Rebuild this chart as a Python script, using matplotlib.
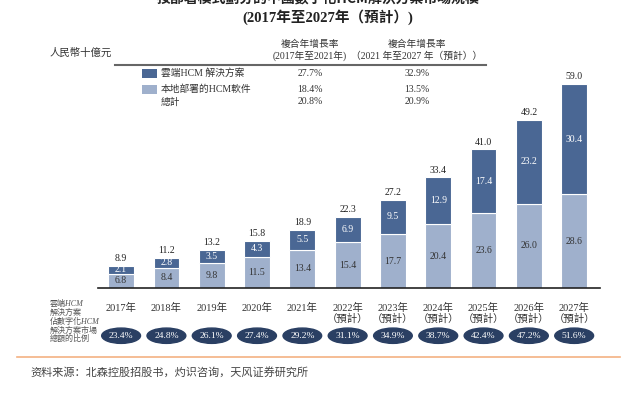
import matplotlib
matplotlib.use("Agg")
import matplotlib.pyplot as plt
import numpy as np

years = ["2017年", "2018年", "2019年", "2020年", "2021年", "2022年", "2023年",
         "2024年", "2025年", "2026年", "2027年"]
forecast = [False] * 5 + [True] * 6
onprem = [6.8, 8.4, 9.8, 11.5, 13.4, 15.4, 17.7, 20.4, 23.6, 26.0, 28.6]
cloud = [2.1, 2.8, 3.5, 4.3, 5.5, 6.9, 9.5, 12.9, 17.4, 23.2, 30.4]
totals = [8.9, 11.2, 13.2, 15.8, 18.9, 22.3, 27.2, 33.4, 41.0, 49.2, 59.0]
share = ["23.4%", "24.8%", "26.1%", "27.4%", "29.2%", "31.1%", "34.9%",
         "38.7%", "42.4%", "47.2%", "51.6%"]

legend_names = ["雲端HCM 解決方案", "本地部署的HCM軟件", "總計"]
cagr_1721 = ["27.7%", "18.4%", "20.8%"]
cagr_2127 = ["32.9%", "13.5%", "20.9%"]

DARK = "#4a6794"
LIGHT = "#9fb0cc"
NAVY = "#2a3f63"
SERIF = ["Liberation Serif", "Noto Sans CJK TC"]
CJK = ["Noto Sans CJK TC", "DejaVu Sans"]

W, H = 626, 394
fig = plt.figure(figsize=(W / 100, H / 100), dpi=100)


def fx(x):
    return x / W


def fy(y):
    return 1 - y / H


# axes placed in pixel terms
ax_l, ax_r, ax_b, ax_t = 98, 600, 288, 30
ax = fig.add_axes([fx(ax_l), fy(ax_b), fx(ax_r - ax_l), (ax_b - ax_t) / H])
ymin = 2.84
ax.set_ylim(ymin, ymin + (ax_b - ax_t) / 3.63)
x = np.arange(len(years))
ax.set_xlim(-0.51, 10.57)

bw = 0.57
ax.bar(x, onprem, bw, color=LIGHT, edgecolor="white", linewidth=0.8)
ax.bar(x, cloud, bw, bottom=onprem, color=DARK, edgecolor="white", linewidth=0.8)

for i in range(len(years)):
    top = onprem[i] + cloud[i]
    ax.text(x[i], (ymin + onprem[i]) / 2, f"{onprem[i]:.1f}", ha="center", va="center",
            fontsize=7, color="#333333", family=SERIF)
    ax.text(x[i], onprem[i] + cloud[i] / 2, f"{cloud[i]:.1f}", ha="center", va="center",
            fontsize=7, color="white", family=SERIF)
    ax.text(x[i], top + 0.8, f"{totals[i]:.1f}", ha="center", va="bottom",
            fontsize=7, color="#222222", family=SERIF)
    # share ellipse
    ax.text(x[i], -0.185, share[i], transform=ax.get_xaxis_transform(),
            ha="center", va="center", fontsize=6.8, color="white", family=SERIF,
            bbox=dict(boxstyle="ellipse,pad=0.15", fc=NAVY, ec=NAVY))

labels = [y + ("\n（預計）" if f else "") for y, f in zip(years, forecast)]
ax.set_xticks(x)
ax.set_xticklabels(labels, fontsize=7.5, family=SERIF, color="#333333",
                   linespacing=1.0, va="top")
ax.tick_params(axis="x", length=0, pad=11)
ax.set_yticks([])
for s in ["top", "right", "left"]:
    ax.spines[s].set_visible(False)
ax.spines["bottom"].set_linewidth(1.2)
ax.spines["bottom"].set_color("#222222")
ax.patch.set_alpha(0)

# title (first line cropped at top edge, as in the source image)
fig.text(fx(318), fy(-1), "按部署模式劃分的中國數字化HCM解決方案市場規模", ha="center",
         va="center", fontsize=10, fontweight="bold", family=CJK, color="#222222")
fig.text(fx(328), fy(17), "(2017年至2027年（預計）)", ha="center", va="center",
         fontsize=10.5, fontweight="bold", family=SERIF, color="#222222")

fig.text(fx(50), fy(53), "人民幣十億元", ha="left", va="center", fontsize=7.5,
         family=CJK, color="#333333")

# legend table
fig.add_artist(plt.Line2D([fx(115), fx(486)], [fy(65), fy(65)], color="#666666",
                          linewidth=1.5))
c1, c2 = 310, 417
fig.text(fx(c1), fy(44), "複合年增長率", ha="center", va="center", fontsize=7,
         family=CJK, color="#333333")
fig.text(fx(c1), fy(56), "(2017年至2021年)", ha="center", va="center", fontsize=7,
         family=SERIF, color="#333333")
fig.text(fx(c2), fy(44), "複合年增長率", ha="center", va="center", fontsize=7,
         family=CJK, color="#333333")
fig.text(fx(c2), fy(56), "（2021 年至2027 年（預計））", ha="center", va="center",
         fontsize=7, family=SERIF, color="#333333")
rows_y = [73, 89, 102]
for i, (name, c) in enumerate(zip(legend_names, [DARK, LIGHT, None])):
    yy = rows_y[i]
    if c is not None:
        fig.add_artist(plt.Rectangle((fx(142), fy(yy + 4.5)), fx(15), 9 / H,
                                     facecolor=c, edgecolor="none"))
    fig.text(fx(161), fy(yy), name, ha="left", va="center", fontsize=7,
             family=SERIF, color="#333333")
    fig.text(fx(c1), fy(yy), cagr_1721[i], ha="center", va="center", fontsize=7,
             family=SERIF, color="#333333")
    fig.text(fx(c2), fy(yy), cagr_2127[i], ha="center", va="center", fontsize=7,
             family=SERIF, color="#333333")

# left note for the share row
note = ["雲端HCM", "解決方案", "佔數字化HCM", "解決方案市場", "總額的比例"]
for i, t in enumerate(note):
    fig.text(fx(50), fy(304 + i * 8.8), t, ha="left", va="center", fontsize=5.8,
             family=SERIF, color="#555555", style="italic")

# bottom rule and source
fig.add_artist(plt.Line2D([fx(17), fx(620)], [fy(357), fy(357)], color="#f4b183",
                          linewidth=1.2))
fig.text(fx(30), fy(372), "资料来源：北森控股招股书，灼识咨询，天风证券研究所", ha="left",
         va="center", fontsize=8, family=["Noto Sans CJK SC", "DejaVu Sans"],
         color="#444444")

fig.savefig("out.png", dpi=100)
